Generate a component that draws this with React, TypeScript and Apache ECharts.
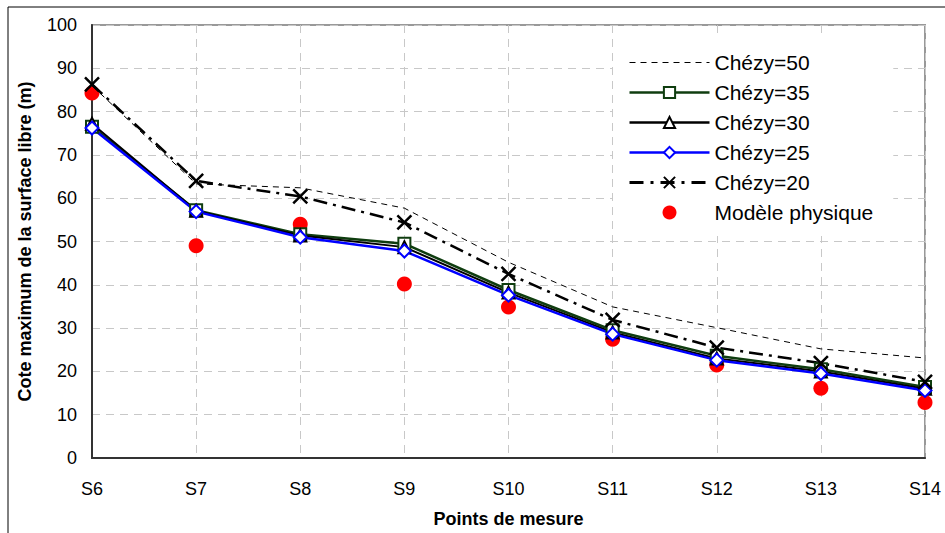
import React, { useEffect, useRef } from "react";
import * as echarts from "echarts";

const categories = ["S6", "S7", "S8", "S9", "S10", "S11", "S12", "S13", "S14"];
const chezy50 = [86, 63.3, 62.4, 57.7, 45.2, 34.9, 30.1, 25.2, 23.1];
const chezy35 = [76.5, 57.2, 51.7, 49.5, 38.8, 29.5, 23.6, 20.5, 16.4];
const chezy30 = [77.2, 57.1, 51.4, 48.7, 38.2, 29.0, 23.0, 20.0, 16.0];
const chezy25 = [76.2, 56.9, 51.0, 47.8, 37.6, 28.6, 22.6, 19.5, 15.6];
const chezy20 = [86.3, 64.0, 60.4, 54.4, 42.5, 31.9, 25.5, 21.9, 17.6];
const physique = [84.3, 49.0, 54.0, 40.2, 34.9, 27.4, 21.5, 16.1, 12.8];
const yTicks = { min: 0, max: 100, interval: 10 };

const FONT = "'Liberation Sans', Arial, sans-serif";

export default function App() {
  const ref = useRef<HTMLDivElement>(null);
  useEffect(() => {
    document.body.style.margin = "0";
    if (!ref.current) return;
    const chart = echarts.init(ref.current, null, { renderer: "svg" });
    const hollow = (color: string) => ({ color: "#ffffff", borderColor: color, borderWidth: 2 });
    chart.setOption({
      animation: false,
      backgroundColor: "#ffffff",
      textStyle: { fontFamily: FONT },
      graphic: [
        {
          type: "rect",
          shape: { x: 8, y: 7, width: 950, height: 540 },
          style: { fill: "none", stroke: "#000", lineWidth: 1 },
          silent: true,
        },
      ],
      grid: {
        left: 92,
        right: 20,
        top: 25,
        bottom: 75,
        show: true,
        borderColor: "#999999",
        borderWidth: 2,
        backgroundColor: "transparent",
      },
      legend: {
        orient: "vertical",
        left: 613,
        top: 37,
        padding: [15, 20, 13, 15],
        backgroundColor: "#ffffff",
        itemWidth: 80,
        itemHeight: 14,
        itemGap: 9,
        textStyle: { fontSize: 21, color: "#000", fontFamily: FONT },
        data: [
          {
            name: "Chézy=50",
            itemStyle: { color: "transparent", borderColor: "transparent", borderWidth: 0, opacity: 0 },
            lineStyle: { color: "#000", width: 1, type: [6, 5] },
          },
          { name: "Chézy=35", lineStyle: { color: "#0f3d0f", width: 2.5 } },
          { name: "Chézy=30", lineStyle: { color: "#000", width: 2.5 } },
          { name: "Chézy=25", lineStyle: { color: "#0000ff", width: 2.5 } },
          { name: "Chézy=20", lineStyle: { color: "#000", width: 3, type: [14, 7, 3, 7] } },
          "Modèle physique",
        ],
      },
      xAxis: {
        type: "category",
        data: categories,
        boundaryGap: false,
        name: "Points de mesure",
        nameLocation: "middle",
        nameGap: 52,
        nameTextStyle: { fontSize: 18, fontWeight: "bold", color: "#000", fontFamily: FONT },
        axisLine: { lineStyle: { color: "#333", width: 2 } },
        axisTick: { show: false },
        axisLabel: { fontSize: 18, color: "#000", margin: 22, fontFamily: FONT },
        splitLine: { show: true, lineStyle: { color: "#c8c8c8", type: [8, 6], width: 1 } },
      },
      yAxis: {
        type: "value",
        min: yTicks.min,
        max: yTicks.max,
        interval: yTicks.interval,
        name: "Cote maximum de la surface libre (m)",
        nameLocation: "middle",
        nameGap: 58,
        nameTextStyle: { fontSize: 18, fontWeight: "bold", color: "#000", fontFamily: FONT },
        axisLine: { show: true, lineStyle: { color: "#333", width: 2 } },
        axisTick: { show: false },
        axisLabel: { fontSize: 18, color: "#000", margin: 15, fontFamily: FONT },
        splitLine: { show: true, lineStyle: { color: "#c8c8c8", type: [8, 6], width: 1 } },
      },
      series: [
        {
          name: "Chézy=50",
          type: "line",
          data: chezy50,
          symbol: "none",
          lineStyle: { color: "#000", width: 1, type: [6, 5] },
          itemStyle: { color: "#000" },
        },
        {
          name: "Chézy=35",
          type: "line",
          data: chezy35,
          symbol: "rect",
          symbolSize: 12,
          lineStyle: { color: "#0f3d0f", width: 2.5 },
          itemStyle: hollow("#0f3d0f"),
        },
        {
          name: "Chézy=30",
          type: "line",
          data: chezy30,
          symbol: "triangle",
          symbolSize: 12,
          lineStyle: { color: "#000", width: 2 },
          itemStyle: hollow("#000"),
        },
        {
          name: "Chézy=25",
          type: "line",
          data: chezy25,
          symbol: "diamond",
          symbolSize: 13,
          lineStyle: { color: "#0000ff", width: 2.5 },
          itemStyle: hollow("#0000ff"),
        },
        {
          name: "Chézy=20",
          type: "line",
          data: chezy20,
          symbol: "path://M0,0L10,10M10,0L0,10",
          symbolSize: 14,
          lineStyle: { color: "#000", width: 2.5, type: [14, 6, 3, 6] },
          itemStyle: { color: "none", borderColor: "#000", borderWidth: 2.5 },
        },
        {
          name: "Modèle physique",
          type: "scatter",
          data: physique,
          symbol: "circle",
          symbolSize: 15,
          itemStyle: { color: "#ff0000", opacity: 1 },
        },
      ],
    });
    return () => chart.dispose();
  }, []);
  return <div ref={ref} style={{ width: 945, height: 533 }} />;
}
